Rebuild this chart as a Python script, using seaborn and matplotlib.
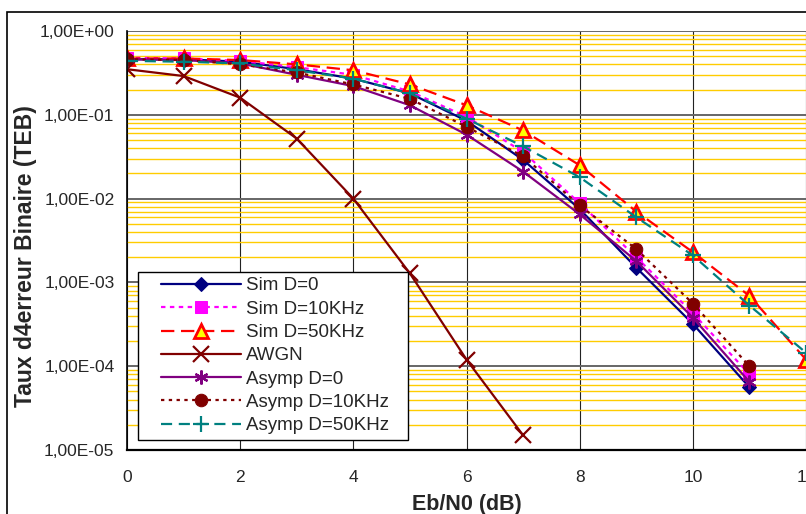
import matplotlib
matplotlib.use("Agg")
import matplotlib.pyplot as plt
import matplotlib.ticker as mticker
from matplotlib.legend_handler import HandlerLine2D
from matplotlib.lines import Line2D
from matplotlib.patches import Rectangle
import pandas as pd
import seaborn as sns

# Eb/N0 (dB) per series
x_short = [0, 1, 2, 3, 4, 5, 6, 7, 8, 9, 10, 11]
x_long = [0, 1, 2, 3, 4, 5, 6, 7, 8, 9, 10, 11, 12]
x_awgn = [0, 1, 2, 3, 4, 5, 6, 7]

sim_d0 = [0.46, 0.46, 0.43, 0.35, 0.27, 0.18, 0.085, 0.029, 0.0075, 0.0015, 3.2e-4, 5.6e-5]
sim_d10 = [0.48, 0.47, 0.44, 0.37, 0.30, 0.19, 0.095, 0.036, 0.0088, 0.0020, 4.3e-4, 8.0e-5]
sim_d50 = [0.47, 0.47, 0.45, 0.40, 0.34, 0.23, 0.13, 0.065, 0.025, 0.0070, 0.0023, 6.9e-4, 1.2e-4]
awgn = [0.35, 0.29, 0.16, 0.052, 0.0100, 1.28e-3, 1.2e-4, 1.5e-5]
asymp_d0 = [0.46, 0.45, 0.41, 0.30, 0.22, 0.13, 0.058, 0.021, 0.0065, 0.0018, 3.8e-4, 6.5e-5]
asymp_d10 = [0.46, 0.45, 0.40, 0.32, 0.23, 0.155, 0.072, 0.032, 0.0083, 0.0025, 5.6e-4, 1.0e-4]
asymp_d50 = [0.44, 0.43, 0.41, 0.34, 0.27, 0.18, 0.09, 0.042, 0.018, 0.0060, 0.0021, 5.3e-4, 1.45e-4]

y_ticks = [1e-5, 1e-4, 1e-3, 1e-2, 1e-1, 1e0]
y_tick_labels = ["1,00E-05", "1,00E-04", "1,00E-03", "1,00E-02", "1,00E-01", "1,00E+00"]
x_ticks = [0, 2, 4, 6, 8, 10, 12]

series = [
    ("Sim D=0", x_short, sim_d0,
     dict(color="#000080", ls="-", marker="D", ms=7, mfc="#000080", mec="#000080")),
    ("Sim D=10KHz", x_short, sim_d10,
     dict(color="#FF00FF", ls=(0, (2, 2)), marker="s", ms=8, mfc="#FF00FF", mec="#FF00FF")),
    ("Sim D=50KHz", x_long, sim_d50,
     dict(color="#FF0000", ls=(0, (6, 3)), marker="^", ms=10, mfc="#FFFF00", mec="#FF0000", mew=2)),
    ("AWGN", x_awgn, awgn,
     dict(color="#800000", ls="-", marker="x", ms=11, mec="#800000", mew=1.6)),
    ("Asymp D=0", x_short, asymp_d0,
     dict(color="#800080", ls="-", marker=(6, 2, 0), ms=10, mec="#800080", mew=1.6)),
    ("Asymp D=10KHz", x_short, asymp_d10,
     dict(color="#800000", ls=(0, (1.5, 2)), marker="o", ms=9, mfc="#800000", mec="#800000")),
    ("Asymp D=50KHz", x_long, asymp_d50,
     dict(color="#008080", ls=(0, (5, 3)), marker="+", ms=11, mec="#008080", mew=1.6)),
]

sns.set_style("white")
plt.rcParams["font.family"] = ["Liberation Sans", "DejaVu Sans"]

fig = plt.figure(figsize=(8.06, 5.14), dpi=100)
ax = fig.add_axes([127 / 806, 64 / 514, 679 / 806, 419 / 514])
ax.set_yscale("log")

for name, xs, ys, style in series:
    df = pd.DataFrame({"ebn0": xs, "teb": ys})
    sns.lineplot(data=df, x="ebn0", y="teb", ax=ax, label=name, lw=1.6,
                 errorbar=None, sort=False, **style)

ax.set_xlim(0, 12)
ax.set_ylim(1e-5, 1)
ax.set_xticks(x_ticks)
ax.set_xticklabels([str(t) for t in x_ticks], fontsize=12.5)
ax.set_yticks(y_ticks)
ax.set_yticklabels(y_tick_labels, fontsize=12.5)
ax.yaxis.set_minor_locator(mticker.LogLocator(base=10, subs=range(2, 10), numticks=20))
ax.yaxis.set_minor_formatter(mticker.NullFormatter())
ax.tick_params(axis="y", which="minor", length=0)
ax.tick_params(axis="y", which="major", direction="out", length=5, width=1, pad=4)
ax.tick_params(axis="x", which="major", direction="inout", length=9, width=1, pad=10)

ax.grid(which="minor", axis="y", color="#FFCC00", lw=1.0)
ax.grid(which="major", axis="y", color="#666666", lw=1.4)
ax.grid(which="major", axis="x", color="#222222", lw=0.8)
ax.set_axisbelow(True)

for side in ["top", "right"]:
    ax.spines[side].set_visible(False)
ax.spines["left"].set_color("black")
ax.spines["left"].set_linewidth(1.2)
ax.spines["bottom"].set_color("black")
ax.spines["bottom"].set_linewidth(1.6)

ax.set_xlabel("Eb/N0 (dB)", fontsize=15.5, fontweight="bold")
ax.set_ylabel("Taux d4erreur Binaire (TEB)", fontsize=16.5, fontweight="bold")
ax.xaxis.set_label_coords(0.5, -0.13)
ax.xaxis.label.set_va("center")
ax.yaxis.set_label_coords(-0.149, 0.463)
ax.yaxis.label.set_va("center")

leg = ax.legend(loc="lower left", bbox_to_anchor=(0.016, 0.024, 270 / 679, 0.3),
                mode="expand", borderaxespad=0,
                fontsize=13.5, handlelength=5.2, handletextpad=0.25, labelspacing=0.33,
                borderpad=0.3, fancybox=False, framealpha=1, edgecolor="black",
                handler_map={Line2D: HandlerLine2D(xpad=0.95)})
leg.get_frame().set_linewidth(1.0)

# chart area border of the original spreadsheet chart
fig.add_artist(Rectangle((7 / 806, -0.5), 2, 0.5 + (1 - 12 / 514), fill=False,
                         ec="black", lw=1.2, transform=fig.transFigure, clip_on=False))

fig.savefig("out.png", dpi=100)
plt.close(fig)
